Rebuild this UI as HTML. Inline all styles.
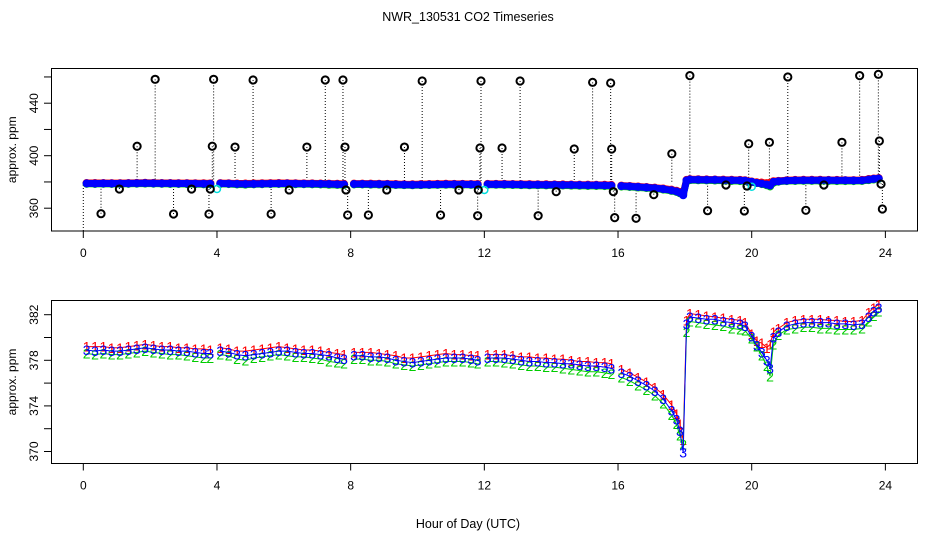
<!DOCTYPE html>
<html><head><meta charset="utf-8"><style>
html,body{margin:0;padding:0;background:#fff}
svg{display:block;font-family:"Liberation Sans",sans-serif}
</style></head><body>
<svg id="c" width="936" height="540" viewBox="0 0 936 540">
<text x="468" y="21" font-size="12.5" text-anchor="middle">NWR_130531  CO2 Timeseries</text>
<text x="468" y="528" font-size="12.5" text-anchor="middle">Hour of Day (UTC)</text>
<g id="topPanel"></g>
<g id="botPanel"></g>
</svg>
<script>
const times=[0.1,0.35,0.6,0.85,1.1,1.35,1.6,1.85,2.1,2.35,2.6,2.85,3.1,3.35,3.6,3.8,3.95,
4.1,4.35,4.6,4.85,5.1,5.35,5.6,5.85,6.1,6.35,6.6,6.85,7.1,7.35,7.6,7.8,7.95,
8.1,8.35,8.6,8.85,9.1,9.35,9.6,9.85,10.1,10.35,10.6,10.85,11.1,11.35,11.6,11.8,11.95,
12.1,12.35,12.6,12.85,13.1,13.35,13.6,13.85,14.1,14.35,14.6,14.85,15.1,15.35,15.6,15.8,15.95,
16.1,16.35,16.6,16.85,17.1,17.35,17.6,17.75,17.85,17.95,
18.05,18.15,18.4,18.65,18.9,19.15,19.4,19.65,19.8,
20.0,20.15,20.3,20.45,20.55,20.65,20.8,
21.05,21.3,21.55,21.8,22.05,22.3,22.55,22.8,23.05,23.3,23.5,23.65,23.8];
const blue=[378.9,378.8,378.9,378.8,378.8,378.9,379.0,379.1,379.0,378.9,378.9,378.8,378.8,378.7,378.6,378.6,null,
378.8,378.7,378.5,378.4,378.5,378.6,378.7,378.8,378.8,378.7,378.6,378.6,378.5,378.4,378.2,378.1,null,
378.4,378.4,378.3,378.3,378.2,378.0,377.9,377.8,377.9,378.0,378.1,378.2,378.2,378.2,378.1,378.0,null,
378.2,378.2,378.2,378.1,378.0,377.9,377.9,377.8,377.8,377.7,377.7,377.6,377.5,377.5,377.4,377.3,null,
376.9,376.6,376.2,375.8,375.3,374.6,373.6,372.8,371.8,369.9,
381.2,381.8,381.7,381.6,381.6,381.4,381.3,381.2,381.0,
380.1,379.3,378.7,378.0,377.3,380.0,380.5,
381.0,381.2,381.3,381.3,381.3,381.3,381.2,381.2,381.1,381.2,381.8,382.3,382.6];
const red=[379.2,379.2,379.2,379.1,379.1,379.2,379.3,379.4,379.3,379.2,379.2,379.1,379.1,379.0,379.0,378.9,null,
379.1,379.0,378.8,378.8,378.9,379.0,379.1,379.2,379.1,379.0,378.9,378.9,378.8,378.7,378.6,378.5,null,
378.7,378.7,378.7,378.6,378.5,378.4,378.2,378.2,378.3,378.4,378.5,378.6,378.5,378.5,378.4,378.4,null,
378.5,378.5,378.5,378.4,378.3,378.3,378.2,378.2,378.1,378.1,378.0,377.9,377.9,377.8,377.8,377.7,null,
377.2,376.9,376.5,376.1,375.6,375.0,374.1,373.3,372.4,371.0,
381.5,382.1,382.0,381.9,381.8,381.7,381.6,381.5,381.3,
380.3,379.7,379.5,379.1,379.4,380.5,380.8,
381.3,381.5,381.6,381.6,381.6,381.5,381.5,381.4,381.4,381.5,382.2,382.6,382.9];
const green=[378.6,378.5,378.6,378.5,378.5,378.6,378.7,378.8,378.7,378.6,378.5,378.5,378.4,378.3,378.2,378.2,null,
378.5,378.4,378.1,378.0,378.2,378.3,378.4,378.5,378.4,378.3,378.3,378.2,378.1,377.9,377.8,377.7,null,
378.1,378.1,378.0,378.0,377.9,377.7,377.6,377.5,377.6,377.7,377.8,377.9,377.9,377.9,377.8,377.7,null,
377.9,377.9,377.8,377.7,377.6,377.5,377.5,377.4,377.4,377.3,377.2,377.1,377.0,377.0,376.9,376.8,null,
376.5,376.2,375.8,375.4,374.9,374.2,373.2,372.4,371.4,370.6,
380.5,381.4,381.3,381.2,381.1,381.0,380.8,380.7,380.6,
379.9,379.2,378.4,377.5,376.6,379.4,380.2,
380.7,380.8,380.9,380.9,380.8,380.8,380.7,380.7,380.7,380.8,381.4,381.9,382.3];
const outHours=[0.53,1.08,1.61,2.15,2.70,3.24,3.76,3.80,3.86,3.90,4.54,5.08,5.62,6.16,6.69,7.24,7.77,7.83,7.86,7.91,8.53,9.08,9.61,10.14,10.69,11.24,11.80,11.82,11.87,11.90,12.53,13.07,13.61,14.15,14.69,15.24,15.78,15.81,15.86,15.90,16.54,17.07,17.61,18.15,18.68,19.23,19.78,19.86,19.91,20.53,21.08,21.62,22.16,22.70,23.23,23.79,23.82,23.87,23.91];
const outVals=[355.8,374.6,407.2,458.2,355.6,374.6,355.6,374.6,407.2,458.2,406.6,457.7,355.6,373.9,406.6,457.7,457.7,406.6,373.9,354.8,354.8,373.9,406.6,456.9,354.8,373.9,354.3,373.9,405.9,456.9,405.9,456.9,354.3,372.6,405.1,455.9,455.4,405.1,372.6,352.8,352.3,370.3,401.5,461.0,358.1,377.7,357.9,376.9,409.1,410.2,460.0,358.4,377.7,410.2,461.0,462.0,411.2,378.4,359.4];
const cyanHours=[4.0,12.0,20.0];
const cyanVals=[374.6,373.9,376.3];
const xTicks=[0,4,8,12,16,20,24];
const topTicks=[360,380,400,420,440,460];
const topLabels=[360,400,440];
const botTicks=[370,372,374,376,378,380,382];
const botLabels=[370,374,378,382];

const NS='http://www.w3.org/2000/svg';
function mk(p,tag,at){const e=document.createElementNS(NS,tag);for(const k in at)e.setAttribute(k,at[k]);p.appendChild(e);return e;}
const X=h=>83.3+h*33.42;
const Yt=v=>155.7-(v-400)*1.3125;
const Yb=v=>360.3-(v-378)*11.4;
function frame(g,y0,y1,Y,ticks,labels,pfx){
  let e=mk(g,'rect',{x:51.5,y:y0,width:866,height:y1-y0,fill:'none',stroke:'#000','stroke-width':1});
  
  
  e=mk(g,'line',{x1:X(0),x2:X(24),y1:y1,y2:y1,stroke:'#000'});
  
  
  xTicks.forEach(t=>{
    mk(g,'line',{x1:X(t),x2:X(t),y1:y1,y2:y1+7,stroke:'#000'});
    const tx=mk(g,'text',{x:X(t),y:y1+26,'font-size':12,'text-anchor':'middle'});tx.textContent=t;
    
    
  });
  mk(g,'line',{x1:51.5,x2:51.5,y1:Y(ticks[0]),y2:Y(ticks[ticks.length-1]),stroke:'#000'});
  ticks.forEach(t=>mk(g,'line',{x1:44,x2:51.5,y1:Y(t),y2:Y(t),stroke:'#000'}));
  labels.forEach(t=>{
    const tx=mk(g,'text',{x:0,y:0,'font-size':12,'text-anchor':'middle',transform:`translate(38,${Y(t)}) rotate(-90)`});tx.textContent=t;
    
    
  });
  const yl=mk(g,'text',{x:0,y:0,'font-size':12,'text-anchor':'middle',transform:`translate(16,${(y0+y1)/2}) rotate(-90)`});yl.textContent='approx. ppm';
  
  
}
const gTop=document.getElementById('topPanel'),gBot=document.getElementById('botPanel');
frame(gTop,68.5,231,Yt,topTicks,topLabels,'top');
frame(gBot,300.5,463.5,Yb,botTicks,botLabels,'bottom');
mk(gTop,'line',{x1:X(0),x2:X(0),y1:Yt(380),y2:231,stroke:'#000','stroke-dasharray':'1,2'});
outHours.forEach((h,i)=>{
  mk(gTop,'line',{x1:X(h),x2:X(h),y1:Yt(outVals[i]),y2:Yt(379),stroke:'#000','stroke-dasharray':'1,2'});
});
function segs(vals){const out=[];let cur=[];vals.forEach((v,i)=>{if(v==null){if(cur.length)out.push(cur);cur=[];}else cur.push(i);});if(cur.length)out.push(cur);return out;}
const series=[[red,'#f00','1','series-1-red'],[green,'#0c0','2','series-2-green'],[blue,'#00f','3','series-3-blue']];
series.forEach(([vals,col,ch,nm])=>{
  const g=mk(gTop,'g',{});
  
  
  segs(vals).forEach(s=>{
    mk(g,'polyline',{points:s.map(i=>X(times[i])+','+Yt(vals[i])).join(' '),fill:'none',stroke:col,'stroke-width':7,'stroke-linecap':'round','stroke-linejoin':'round'});
    s.forEach(i=>mk(g,'circle',{cx:X(times[i]),cy:Yt(vals[i]),r:3.3,fill:'none',stroke:col,'stroke-width':1.5}));
  });
  const gb=mk(gBot,'g',{});
  
  
  segs(vals).forEach(s=>{
    mk(gb,'polyline',{points:s.map(i=>X(times[i])+','+Yb(vals[i])).join(' '),fill:'none',stroke:col,'stroke-width':1});
    s.forEach(i=>{const t=mk(gb,'text',{x:X(times[i]),y:Yb(vals[i])+5,'font-size':14,'text-anchor':'middle',fill:col});t.textContent=ch;});
  });
});
cyanHours.forEach((h,i)=>{
  const c=mk(gTop,'circle',{cx:X(h),cy:Yt(cyanVals[i]),r:3.5,fill:'none',stroke:'#0dd','stroke-width':1.5});
  
  
});
outHours.forEach((h,i)=>{
  const c=mk(gTop,'circle',{cx:X(h),cy:Yt(outVals[i]),r:3.6,fill:'none',stroke:'#000','stroke-width':2});
  
  
});
</script>
</body></html>
